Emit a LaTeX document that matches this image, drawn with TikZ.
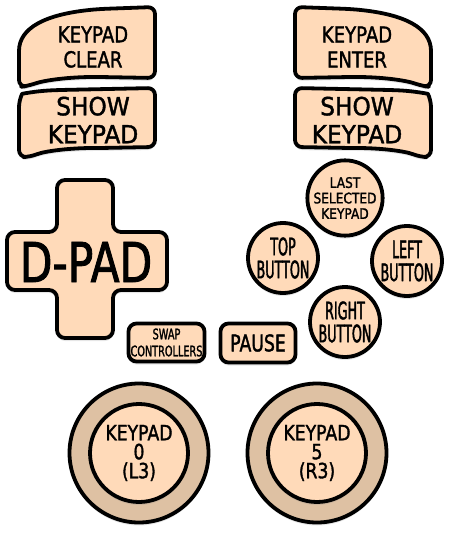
\documentclass[tikz,border=0pt]{standalone}
\usepackage{fontspec}
\usetikzlibrary{shadows}
\newcommand\padfont[3]{\fontspec[FakeStretch=#1,FakeBold=1.6]{DejaVu Sans}\fontsize{#2}{#3}\selectfont}
\definecolor{pad}{RGB}{255,218,185}
\definecolor{ring}{RGB}{222,193,163}
\tikzset{
  padpart/.style={draw=black, line width=3.8pt, fill=pad, line join=round,
    drop shadow={shadow xshift=0pt, shadow yshift=-3pt, opacity=0.2}},
  padbtn/.style={padpart, circle, minimum size=70pt, inner sep=0pt, align=center,
    font=\padfont{0.53}{24}{23}},
  padkey/.style={padpart, rounded corners=8pt, inner sep=0pt, align=center},
  padtext/.style={align=center, inner sep=0pt},
  stickring/.style={padpart, circle, fill=ring, minimum size=139pt},
  stickcap/.style={padpart, circle, minimum size=98pt, inner sep=0pt, align=center,
    font=\padfont{0.82}{21}{19}},
}
\begin{document}
\begin{tikzpicture}[x=1pt,y=-1pt]
  \useasboundingbox (0,0) rectangle (450,540);
  % shoulder keys, drawn on the left and mirrored to the right
  \foreach \side in {1,-1}{
    \begin{scope}[xshift={(1-\side)*225pt}, xscale=\side]
      \path[padpart, rounded corners=7pt] (19,58) .. controls (19,28) and (45,14) .. (100,9)
        -- (155,7) -- (155,78) -- (100,77) .. controls (70,77) and (45,80) .. (28,86)
        -- (19,87) -- cycle;
      \path[padpart, rounded corners=7pt] (19,100) .. controls (22,94) and (35,91) .. (60,90)
        -- (155,88) -- (155,147) -- (100,148) .. controls (70,148) and (45,151) .. (30,157)
        -- (19,157) -- cycle;
    \end{scope}
  }
  \node[padtext, font=\padfont{0.82}{22}{25}] (clear) at (93,47) {KEYPAD\\CLEAR};
  \node[padtext, font=\padfont{0.82}{22}{25}] (enter) at (357,47) {KEYPAD\\ENTER};
  \node[padtext, font=\padfont{0.93}{25}{28}] (showl) at (93,120) {SHOW\\KEYPAD};
  \node[padtext, font=\padfont{0.93}{25}{28}] (showr) at (357,120) {SHOW\\KEYPAD};
  % d-pad
  \path[padpart, rounded corners=8pt] (57,180) -- (113,180) -- (113,232) -- (167,232)
    -- (167,290) -- (113,290) -- (113,338) -- (57,338) -- (57,290) -- (7,290)
    -- (7,232) -- (57,232) -- cycle;
  \node[padtext, font=\padfont{0.77}{55}{60}] (dpad) at (86,262) {D-PAD};
  % middle keys
  \node[padkey, minimum width=76pt, minimum height=38pt, font=\padfont{0.67}{14.5}{17}]
    (swap) at (166.5,342.5) {SWAP\\CONTROLLERS};
  \node[padkey, minimum width=75pt, minimum height=39pt, font=\padfont{0.75}{23}{25}]
    (pause) at (258,343) {PAUSE};
  % face buttons
  \node[padbtn, font=\padfont{0.84}{14.5}{15.5}] (lastkp) at (345,198) {LAST\\SELECTED\\KEYPAD};
  \node[padbtn] (topbtn) at (283,258) {TOP\\BUTTON};
  \node[padbtn] (leftbtn) at (407,261) {LEFT\\BUTTON};
  \node[padbtn] (rightbtn) at (345,322) {RIGHT\\BUTTON};
  % thumbsticks
  \node[stickring] (lstick) at (139,453) {};
  \node[stickcap] (lcap) at (lstick) {KEYPAD\\0\\(L3)};
  \node[stickring] (rstick) at (317,453) {};
  \node[stickcap] (rcap) at (rstick) {KEYPAD\\5\\(R3)};
\end{tikzpicture}
\end{document}
